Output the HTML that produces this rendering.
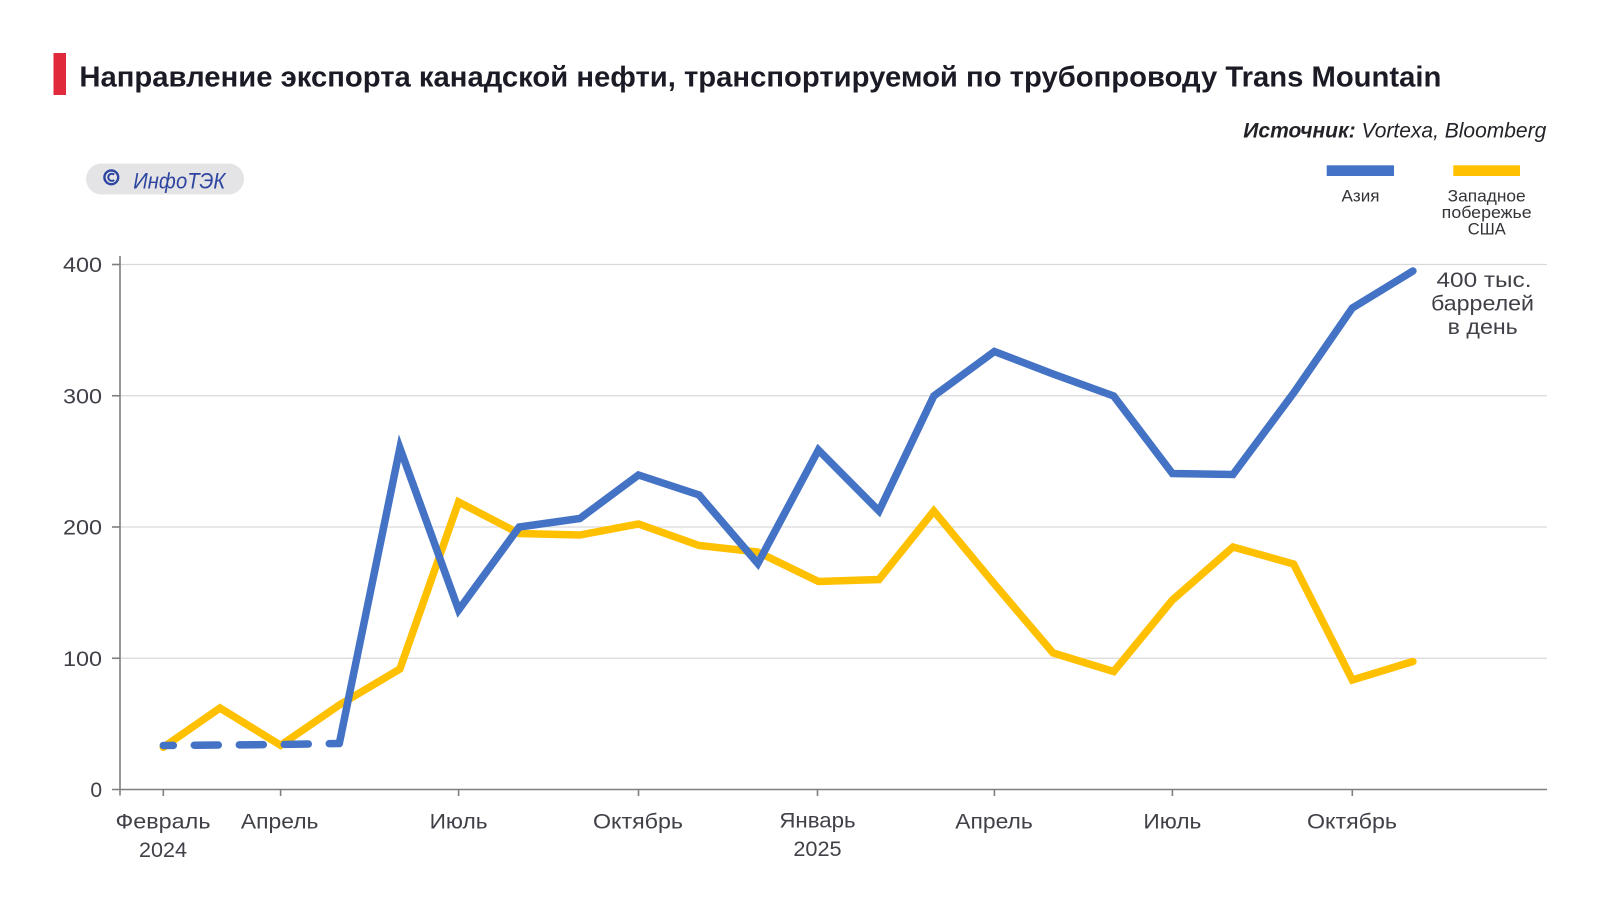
<!DOCTYPE html>
<html>
<head>
<meta charset="utf-8">
<style>
  html, body { margin: 0; padding: 0; background: #ffffff; }
  body { width: 1600px; height: 900px; overflow: hidden; }
  svg { display: block; }
  text { font-family: "Liberation Sans", "DejaVu Sans", sans-serif; }
</style>
</head>
<body>
<svg width="1600" height="900" viewBox="0 0 1600 900" xmlns="http://www.w3.org/2000/svg">
  <rect x="0" y="0" width="1600" height="900" fill="#ffffff"/>

  <!-- Title -->
  <rect x="53.5" y="53" width="12.5" height="42" fill="#e0293a"/>
  <text x="79.4" y="86.7" font-size="29" font-weight="bold" fill="#1b1b26" textLength="1362" lengthAdjust="spacingAndGlyphs">Направление экспорта канадской нефти, транспортируемой по трубопроводу Trans Mountain</text>

  <!-- Source -->
  <text x="1243.3" y="137.3" font-size="21" font-style="italic" fill="#222228" textLength="303" lengthAdjust="spacingAndGlyphs"><tspan font-weight="bold">Источник:</tspan><tspan> Vortexa, Bloomberg</tspan></text>

  <!-- Watermark badge -->
  <rect x="86" y="163.5" width="158" height="31" rx="15.5" ry="15.5" fill="#e4e4e6"/>
  <circle cx="111.3" cy="177.3" r="6.9" fill="none" stroke="#2d44a0" stroke-width="2.4"/>
  <path d="M114.2,174.6 A3.6,3.6 0 1 0 114.2,180" fill="none" stroke="#2d44a0" stroke-width="2"/>
  <text x="133.3" y="188.3" font-size="22" font-style="italic" fill="#2d44a0" textLength="92" lengthAdjust="spacingAndGlyphs">ИнфоТЭК</text>

  <!-- Legend -->
  <rect x="1326.7" y="165.3" width="67.3" height="10.7" fill="#4472c4"/>
  <rect x="1453.3" y="165.3" width="66.7" height="10.7" fill="#ffc000"/>
  <g font-size="17" fill="#333338" text-anchor="middle">
    <text x="1360.5" y="201.7" textLength="38" lengthAdjust="spacingAndGlyphs">Азия</text>
    <text x="1486.7" y="201.7" textLength="78" lengthAdjust="spacingAndGlyphs">Западное</text>
    <text x="1486.7" y="218" textLength="90" lengthAdjust="spacingAndGlyphs">побережье</text>
    <text x="1486.7" y="234.3" textLength="38" lengthAdjust="spacingAndGlyphs">США</text>
  </g>

  <!-- Gridlines -->
  <g stroke="#d9d9d9" stroke-width="1.3">
    <line x1="120" y1="264.5" x2="1547" y2="264.5"/>
    <line x1="120" y1="395.75" x2="1547" y2="395.75"/>
    <line x1="120" y1="527" x2="1547" y2="527"/>
    <line x1="120" y1="658.25" x2="1547" y2="658.25"/>
  </g>

  <!-- Axes -->
  <g stroke="#7f7f7f" stroke-width="1.6">
    <line x1="120" y1="256" x2="120" y2="795.5"/>
    <line x1="112" y1="789.5" x2="1547" y2="789.5"/>
    <!-- y ticks -->
    <line x1="112" y1="264.5" x2="120" y2="264.5"/>
    <line x1="112" y1="395.75" x2="120" y2="395.75"/>
    <line x1="112" y1="527" x2="120" y2="527"/>
    <line x1="112" y1="658.25" x2="120" y2="658.25"/>
    <!-- x ticks -->
    <line x1="163.3" y1="789.5" x2="163.3" y2="796"/>
    <line x1="280.6" y1="789.5" x2="280.6" y2="796"/>
    <line x1="458.6" y1="789.5" x2="458.6" y2="796"/>
    <line x1="638.5" y1="789.5" x2="638.5" y2="796"/>
    <line x1="817.5" y1="789.5" x2="817.5" y2="796"/>
    <line x1="994.4" y1="789.5" x2="994.4" y2="796"/>
    <line x1="1172.4" y1="789.5" x2="1172.4" y2="796"/>
    <line x1="1352.3" y1="789.5" x2="1352.3" y2="796"/>
  </g>

  <!-- Y labels -->
  <g font-size="21" fill="#404048" text-anchor="end">
    <text x="102" y="272" textLength="39" lengthAdjust="spacingAndGlyphs">400</text>
    <text x="102" y="403.3" textLength="39" lengthAdjust="spacingAndGlyphs">300</text>
    <text x="102" y="534.5" textLength="39" lengthAdjust="spacingAndGlyphs">200</text>
    <text x="102" y="665.8" textLength="39" lengthAdjust="spacingAndGlyphs">100</text>
    <text x="102" y="797">0</text>
  </g>

  <!-- X labels -->
  <g font-size="21.5" fill="#404048" text-anchor="middle">
    <text x="163" y="828.3" textLength="95" lengthAdjust="spacingAndGlyphs">Февраль</text>
    <text x="163" y="857" textLength="48" lengthAdjust="spacingAndGlyphs">2024</text>
    <text x="279.7" y="828.3" textLength="77.5" lengthAdjust="spacingAndGlyphs">Апрель</text>
    <text x="458.6" y="828.3" textLength="58" lengthAdjust="spacingAndGlyphs">Июль</text>
    <text x="638" y="828.3" textLength="90" lengthAdjust="spacingAndGlyphs">Октябрь</text>
    <text x="817.5" y="827.5" textLength="76.3" lengthAdjust="spacingAndGlyphs">Январь</text>
    <text x="817.5" y="856" textLength="48.3" lengthAdjust="spacingAndGlyphs">2025</text>
    <text x="994" y="828.3" textLength="77.5" lengthAdjust="spacingAndGlyphs">Апрель</text>
    <text x="1172.4" y="828.3" textLength="58" lengthAdjust="spacingAndGlyphs">Июль</text>
    <text x="1352" y="828.3" textLength="90" lengthAdjust="spacingAndGlyphs">Октябрь</text>
  </g>

  <!-- Series: West Coast USA (yellow) -->
  <path d="M163.3,747.3 L220,708 L280.6,745.3 L339.3,705 L399.9,669 L458.6,502 L519.2,533.5 L579.8,535 L638.5,524 L699.1,545.5 L757.8,552 L818.4,581.5 L879,579.5 L933.8,511 L994.4,584 L1053.1,653 L1113.7,671.5 L1172.4,600 L1233,547 L1293.6,564 L1352.3,680 L1412.9,661.5"
        fill="none" stroke="#ffc000" stroke-width="7.5" stroke-linejoin="miter" stroke-miterlimit="10" stroke-linecap="round"/>

  <!-- Series: Asia (blue) dashed early part -->
  <path d="M163.3,745.5 L220,745 L280.6,744.5 L339.3,743.5"
        fill="none" stroke="#4472c4" stroke-width="7.5" stroke-linecap="round" stroke-dasharray="24 21" stroke-dashoffset="14"/>
  <!-- Series: Asia (blue) solid -->
  <path d="M339.3,743.5 L399.9,448 L458.6,610 L519.2,527 L579.8,518.5 L638.5,475 L699.1,495 L757.8,563.5 L818.4,450 L879,511 L933.8,396 L994.4,351.5 L1053.1,374 L1113.7,396 L1172.4,473.5 L1233,474.5 L1293.6,393 L1352.3,308 L1412.9,271"
        fill="none" stroke="#4472c4" stroke-width="7.5" stroke-linejoin="miter" stroke-miterlimit="10" stroke-linecap="round"/>

  <!-- Annotation -->
  <g font-size="21" fill="#404048" text-anchor="middle">
    <text x="1484" y="287" textLength="95" lengthAdjust="spacingAndGlyphs">400 тыс.</text>
    <text x="1482.5" y="310.5" textLength="103" lengthAdjust="spacingAndGlyphs">баррелей</text>
    <text x="1482.7" y="334" textLength="70" lengthAdjust="spacingAndGlyphs">в день</text>
  </g>
</svg>
</body>
</html>
